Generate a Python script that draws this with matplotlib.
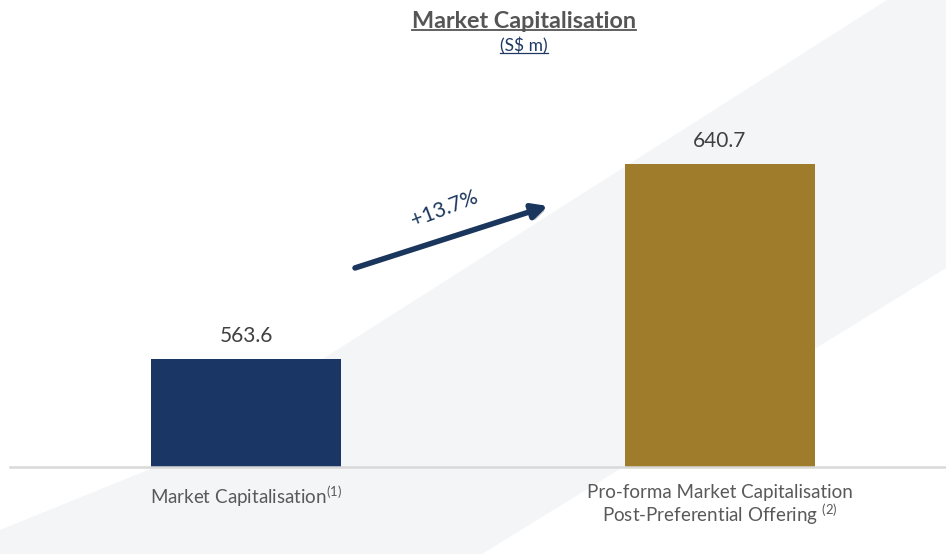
import matplotlib.pyplot as plt
import matplotlib.patheffects as pe
from matplotlib.patches import Polygon
from matplotlib.lines import Line2D

plt.rcParams['font.family'] = ['Lato', 'DejaVu Sans']
plt.rcParams['mathtext.fontset'] = 'custom'
plt.rcParams['mathtext.rm'] = 'Lato'
plt.rcParams['mathtext.it'] = 'Lato'

# Data
categories = ['Market Capitalisation$^{\\mathrm{(1)}}$',
              'Pro-forma Market Capitalisation\nPost-Preferential Offering $^{\\mathrm{(2)}}$']
values = [563.6, 640.7]
bar_colors = ['#1a3664', '#9e7c2c']
growth_label = '+13.7%'

fig = plt.figure(figsize=(9.46, 5.54), dpi=100)

# light diagonal band in background
band = Polygon([(148 / 946, 1 - 470 / 554), (887 / 946, 1.0), (1.0, 1.0),
                (1.0, 1 - 268 / 554), (482 / 946, 0.0), (0.0, 0.0), (0.0, 1 - 530 / 554)],
               closed=True, transform=fig.transFigure, facecolor='#f4f5f7',
               edgecolor='none', zorder=0)
fig.add_artist(band)

ax = fig.add_axes([10 / 946, 87 / 554, 936 / 946, 367 / 554])
ax.patch.set_alpha(0)
x = [0, 1]
bars = ax.bar(x, values, width=0.4, color=bar_colors, zorder=2)
ax.set_xlim(-0.498, 1.477)
ax.set_ylim(520.9, 666.0)

for b, v in zip(bars, values):
    ax.annotate(f'{v:.1f}', (b.get_x() + b.get_width() / 2, v), xytext=(0, 9),
                textcoords='offset points', ha='center', va='bottom',
                fontsize=15, color='#404040')

for s in ['top', 'right', 'left']:
    ax.spines[s].set_visible(False)
ax.spines['bottom'].set_color('#d9d9d9')
ax.spines['bottom'].set_linewidth(1.8)
ax.set_yticks([])
ax.set_xticks(x)
ax.set_xticklabels(categories, fontsize=13.5, color='#595959', linespacing=1.05)
ax.tick_params(axis='x', length=0, pad=12)

# growth arrow
ax.annotate('', xy=(0.637, 624.1), xytext=(0.23, 599.6),
            arrowprops=dict(arrowstyle='-|>,head_length=0.9,head_width=0.45',
                            color='#1b365d', lw=4, shrinkA=0, shrinkB=0,
                            path_effects=[pe.SimplePatchShadow(offset=(2, -2), alpha=0.25),
                                          pe.Normal()]),
            zorder=3)
ax.text(0.418, 623.0, growth_label, rotation=21, ha='center', va='center',
        fontsize=15, color='#1b365d', rotation_mode='anchor')

# titles with underline
title = fig.text(524 / 946, 1 - 21 / 554, 'Market Capitalisation', ha='center', va='center',
                 fontsize=16.8, fontweight='bold', color='#555555')
sub = fig.text(524 / 946, 1 - 46 / 554, '(S$ m)', ha='center', va='center',
               fontsize=12.5, color='#1f3864')

fig.canvas.draw()
r = fig.canvas.get_renderer()
for t, c, lw in [(title, '#555555', 1.3), (sub, '#1f3864', 0.9)]:
    bb = t.get_window_extent(r).transformed(fig.transFigure.inverted())
    yy = bb.y0 + 0.002
    fig.add_artist(Line2D([bb.x0, bb.x1], [yy, yy], color=c, lw=lw,
                          transform=fig.transFigure))

fig.savefig('out.png', dpi=100)
